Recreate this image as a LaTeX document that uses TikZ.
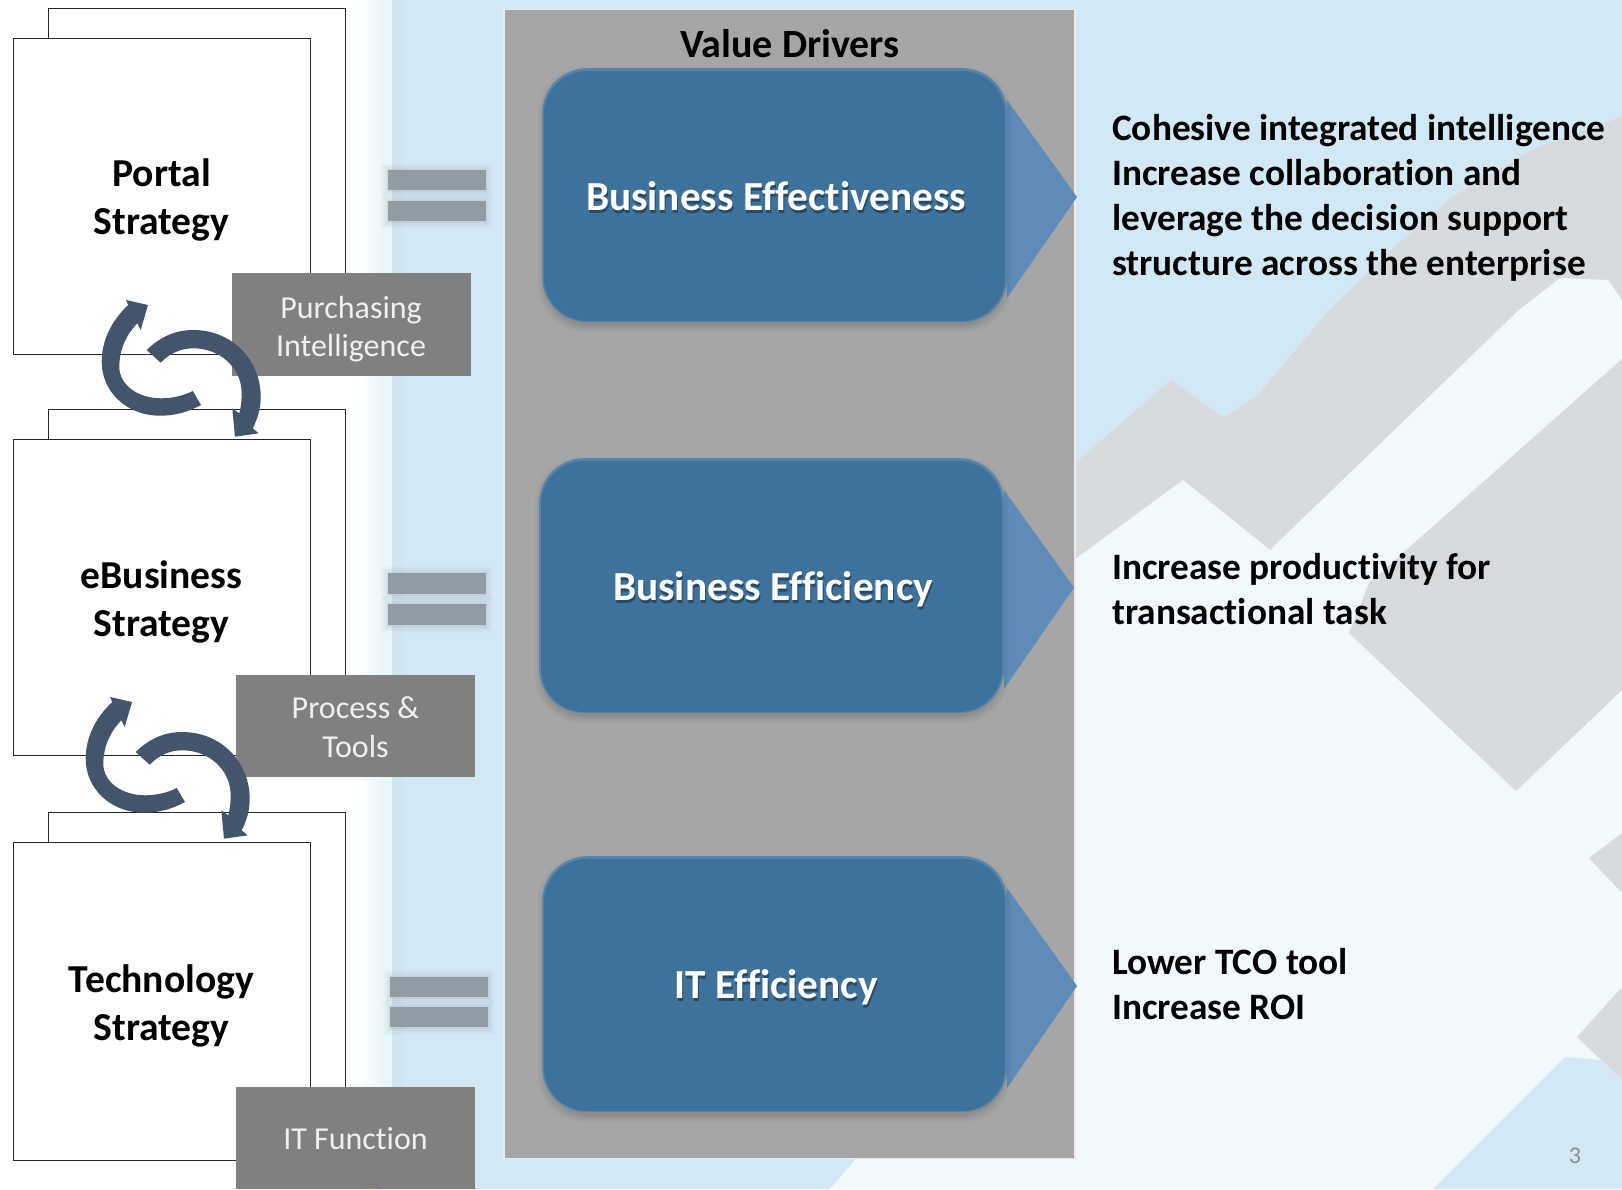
\documentclass[tikz,border=0pt]{standalone}
\usepackage{fontspec}
\setmainfont[Ligatures=NoCommon]{Carlito}
\definecolor{bgblue}{HTML}{D3E8F5}
\definecolor{bgwhite}{HTML}{F2F9FC}
\definecolor{bggrey}{HTML}{D8DBDE}
\definecolor{bandpale}{HTML}{E8F7FB}
\definecolor{banddark}{HTML}{D1E5EF}
\definecolor{panelgrey}{HTML}{A6A6A6}
\definecolor{boxblue}{HTML}{3F729B}
\definecolor{boxedge}{HTML}{5585AC}
\definecolor{tipblue}{HTML}{5F8BB8}
\definecolor{labelgrey}{HTML}{808080}
\definecolor{arrowblue}{HTML}{44546A}
\definecolor{barblue}{HTML}{8E979F}
\newcommand{\arrowApath}{(201,405) .. controls (188,412) and (175,415.7) .. (160,415.7) .. controls (127,415.7) and (101.7,392) .. (101.7,361.7) .. controls (101.7,340) and (112,320) .. (128.3,305) -- (126,300) -- (148,305) -- (140.7,330) -- (137.3,323.3) .. controls (126,335) and (119.3,350) .. (119.3,366.7) .. controls (119.3,385) and (138,398.3) .. (161,398.3) .. controls (172,398.3) and (183,396) .. (192.7,391) -- cycle}
\newcommand{\arrowBpath}{(146.7,350) .. controls (160,337) and (175,330) .. (193.3,330) .. controls (232,330) and (260.7,360) .. (260.7,396.7) .. controls (260.7,408) and (258,418) .. (252.7,428.3) -- (258.7,433.3) -- (235,436.7) -- (232.3,408.3) -- (239.3,413.3) .. controls (241,407) and (241.7,400) .. (241.7,393.3) .. controls (241.7,368) and (220,348.3) .. (193.3,348.3) .. controls (181,348.3) and (170,353) .. (160.7,362.7) -- cycle}
% top, bottom, text centre y, text, name
\newcommand{\strategypair}[5]{%
  \node[backsheet, minimum width=297pt, minimum height=#2-#1-40pt, anchor=north west] (#5b) at (48,#1) {};
  \node[frontsheet, minimum width=297pt, minimum height=#2-#1-30pt, anchor=north west] (#5) at (13,#1+30) {};
  \node[sheettext] (#5t) at (161.5,#3) {#4};
}
% name, left, top, height, text, text dy
\newcommand{\bluedriver}[6]{%
  \fill[tipblue] (#2+465,#3+32) -- (#2+535,#3+#4/2+2) -- (#2+465,#3+#4-24) -- cycle;
  \foreach \g/\o in {8/.025,6/.03,4/.04,2/.05}
    \fill[black, opacity=\o, rounded corners=45pt] (#2-\g+4,#3+7-\g) rectangle (#2+465+\g-4,#3+#4+2+\g);
  \node[driverbox, minimum width=465pt, minimum height=#4 pt, anchor=north west] (#1) at (#2,#3) {};
  \fill[boxblue, rounded corners=43pt] (#2+2,#3+3) rectangle (#2+463,#3+#4-1);
  \node[drivertext, text=black!60!boxblue, opacity=.6] (#1s) at (#2+235,#3+#4/2+2+#6) {#5};
  \node[drivertext] (#1t) at (#2+234,#3+#4/2-1+#6) {#5};
}
\newcommand{\eqbar}[4]{%
  \foreach \g/\o in {7/.04,5/.06,3/.08,1/.12}
    \fill[barblue, opacity=\o] (#2-\g,#3-\g) rectangle (#2+98+\g,#4+\g+1);
  \node[barstyle, minimum width=98pt, minimum height=#4-#3 pt, anchor=north west] (#1) at (#2,#3) {};
}
\begin{document}
\begin{tikzpicture}[x=1pt,y=-1pt,
  backsheet/.style={draw=black!85, line width=1.4pt, fill=white, inner sep=0pt},
  frontsheet/.style={draw=black!85, line width=1.4pt, fill=white, inner sep=0pt},
  sheettext/.style={inner sep=0pt, align=center, font=\fontsize{39.6}{48}\selectfont\bfseries},
  labelbox/.style={fill=labelgrey, inner sep=0pt},
  labeltext/.style={text=white!94!black, inner sep=0pt, align=center, font=\fontsize{32}{38.5}\selectfont},
  driverbox/.style={fill=boxedge, rounded corners=45pt, inner sep=0pt},
  drivertext/.style={text=white, inner sep=0pt, font=\fontsize{41.3}{46}\selectfont\bfseries},
  sidetext/.style={text=black, inner sep=0pt, anchor=north west, align=left,
    font=\fontsize{37.3}{45}\selectfont\bfseries},
  barstyle/.style={fill=barblue, fill opacity=.92, inner sep=0pt},
  curlarrow/.style={fill=arrowblue}]
\useasboundingbox (0,0) rectangle (1622,1189);
% background
\fill[bgblue] (0,0) rectangle (1622,1189);
\fill[bggrey] (1000,520) -- (1074,464) -- (1171,380) -- (1224,418) -- (1258,395) -- (1329,310) -- (1393,248) -- (1452,197) -- (1537,147) -- (1622,117) -- (1622,420) -- (1270,600) -- (1000,700) -- cycle;
\fill[bgwhite] (1000,640) -- (1074,560) -- (1183,480) -- (1270,550) -- (1519,310) -- (1560,278) -- (1608,280) -- (1622,300) -- (1622,1189) -- (830,1189) -- (855,1160) -- (1000,1000) -- cycle;
\fill[bggrey] (1622,359) -- (1369,583) -- (1349,633) -- (1516,791) -- (1622,690) -- cycle;
\fill[bggrey] (1622,833) -- (1589,858) -- (1622,893) -- cycle;
\fill[bggrey] (1622,987) -- (1577,1037) -- (1622,1080) -- cycle;
\fill[bgblue] (1433,1189) -- (1565,1057) -- (1600,1060) -- (1622,1080) -- (1622,1189) -- cycle;
\fill[white] (0,0) rectangle (361,1189);
\shade[left color=white, right color=bandpale] (360,0) rectangle (382,1189);
\fill[bandpale] (382,0) rectangle (392,1189);
\fill[banddark] (392,0) rectangle (403,1189);
% strategy sheets
\strategypair{8}{354}{200}{Portal\\Strategy}{portal}
\strategypair{409}{755}{602}{eBusiness\\Strategy}{ebiz}
\strategypair{812}{1160}{1006}{Technology\\Strategy}{tech}
% labels
\node[labelbox, minimum width=239pt, minimum height=103pt] (lab1) at (351.5,324.5) {};
\node[labeltext] (lab1t) at (351,329) {Purchasing\\Intelligence};
\node[labelbox, minimum width=239pt, minimum height=102pt] (lab2) at (355.5,726) {};
\node[labeltext] (lab2t) at (355.5,727) {Process \&\\Tools};
\node[labelbox, minimum width=239pt, minimum height=102pt] (lab3) at (355.5,1138) {};
\node[labeltext] (lab3t) at (355.5,1139) {IT Function};
% curl arrows
\fill[curlarrow] \arrowApath;
\fill[curlarrow] \arrowBpath;
\begin{scope}[shift={(-16,397)}]
  \fill[curlarrow] \arrowApath;
\end{scope}
\begin{scope}[shift={(-11,402)}]
  \fill[curlarrow] \arrowBpath;
\end{scope}
% equal bars
\eqbar{b1a}{388}{170}{190}
\eqbar{b1b}{388}{201}{221}
\eqbar{b2a}{388}{573}{594}
\eqbar{b2b}{388}{604}{625}
\eqbar{b3a}{390}{977}{997}
\eqbar{b3b}{390}{1007}{1027}
% panel
\node[fill=panelgrey, draw=white!92!black, line width=1.5pt, minimum width=571pt, minimum height=1149pt, inner sep=0pt, anchor=north west] (panel) at (503,8.5) {};
\node[inner sep=0pt, font=\fontsize{40}{46}\selectfont\bfseries] (vd) at (790,44) {Value Drivers};
\bluedriver{d1}{542}{68}{254}{Business Effectiveness}{2}
\bluedriver{d2}{539}{458}{255}{Business Efficiency}{5}
\bluedriver{d3}{542}{856}{256}{IT Efficiency}{4}
% right texts
\node[sidetext] (t1) at (1112,114) {Cohesive integrated intelligence\\Increase collaboration and\\leverage the decision support\\structure across the enterprise};
\node[sidetext] (t2) at (1112,553.5) {Increase productivity for\\transactional task};
\node[sidetext] (t3) at (1112,948.5) {Lower TCO tool\\Increase ROI};
\node[inner sep=0pt, text=black!45, font=\fontsize{24}{28}\selectfont] (pg) at (1575,1156) {3};
\end{tikzpicture}
\end{document}
